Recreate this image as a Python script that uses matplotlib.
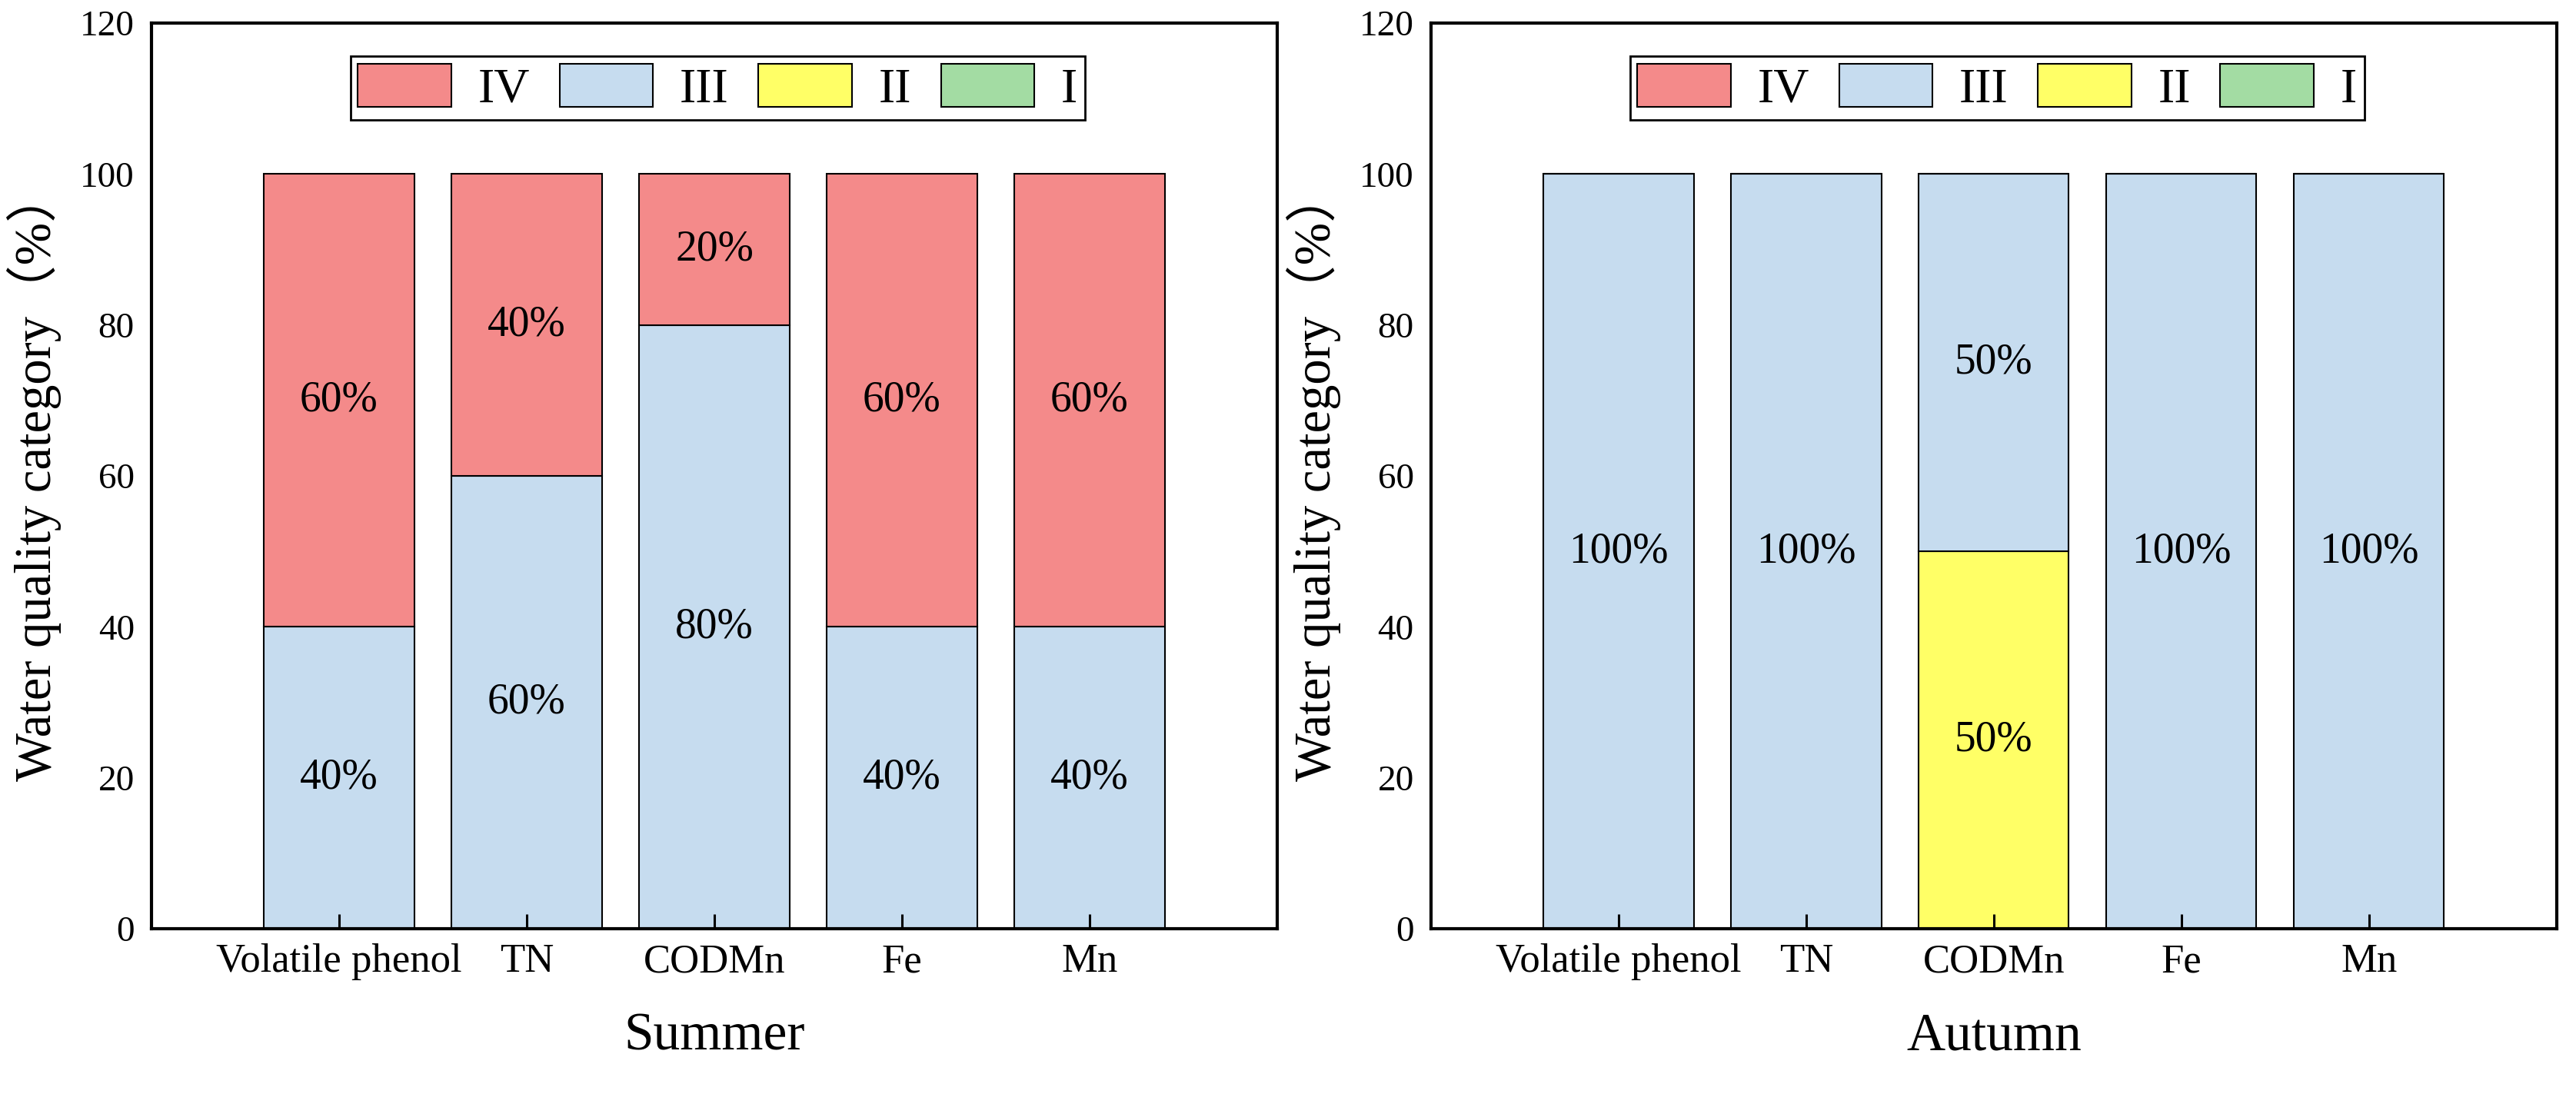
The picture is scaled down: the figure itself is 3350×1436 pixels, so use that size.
import numpy as np
import matplotlib
matplotlib.use("Agg")
import matplotlib.pyplot as plt

plt.rcParams['font.family'] = ['Liberation Serif', 'Noto Sans CJK SC']

# data
params = ["Volatile phenol", "TN", "CODMn", "Fe", "Mn"]
classes = ["I", "II", "III", "IV"]          # stacking order, bottom -> top
seasons = ["Summer", "Autumn"]
summer = {"I": [0, 0, 0, 0, 0],
          "II": [0, 0, 0, 0, 0],
          "III": [40, 60, 80, 40, 40],
          "IV": [60, 40, 20, 60, 60]}
autumn = {"I": [0, 0, 0, 0, 0],
          "II": [0, 0, 50, 0, 0],
          "III": [100, 100, 50, 100, 100],
          "IV": [0, 0, 0, 0, 0]}
season_data = [summer, autumn]

colors = {"I": "#A3DCA3", "II": "#FFFF66", "III": "#C6DCEF", "IV": "#F48A8A"}

fig = plt.figure(figsize=(33.5, 14.36), dpi=100)
ax_pos = [[0.0588, 0.1588, 0.437, 0.8203],
          [0.5555, 0.1588, 0.437, 0.8203]]

x = np.arange(1, len(params) + 1)

for pos, name, data in zip(ax_pos, seasons, season_data):
    ax = fig.add_axes(pos)
    bottom = np.zeros(len(params))
    handles = {}
    for c in classes:
        vals = np.array(data[c], dtype=float)
        handles[c] = ax.bar(x, vals, 0.8, bottom=bottom, color=colors[c],
                            edgecolor='black', linewidth=1.5, label=c)
        # percentage labels in the middle of each segment
        for xi, b, v in zip(x, bottom, vals):
            if v > 0:
                ax.text(xi, b + v / 2, f"{v:.0f}%", ha='center', va='center',
                        fontsize=40)
        bottom = bottom + vals

    ax.set_xlim(0, 6)
    ax.set_ylim(0, 120)
    ax.set_yticks(np.arange(0, 121, 20))
    ax.set_xticks(x)
    ax.set_xticklabels(params, fontsize=38)
    ax.tick_params(axis='y', length=0, labelsize=34, pad=16)
    ax.tick_params(axis='x', direction='in', length=14, width=2.2, pad=14)
    for sp in ax.spines.values():
        sp.set_linewidth(3)

    ax.set_ylabel("Water quality category（%）", fontsize=48)
    ax.yaxis.set_label_coords(-0.08, 0.5)
    ax.set_xlabel(name, fontsize=50, labelpad=30)

    order = ["IV", "III", "II", "I"]
    leg = ax.legend([handles[c] for c in order], order, ncol=4,
                    loc='upper left', bbox_to_anchor=(1.06, 115.6),
                    bbox_transform=ax.transData, borderaxespad=0,
                    fontsize=46, handlelength=1.9, handleheight=0.97,
                    handletextpad=0.55, columnspacing=0.6, borderpad=0.15,
                    fancybox=False, framealpha=1, edgecolor='black')
    leg.get_frame().set_linewidth(2)

fig.savefig("out.png", dpi=100)
